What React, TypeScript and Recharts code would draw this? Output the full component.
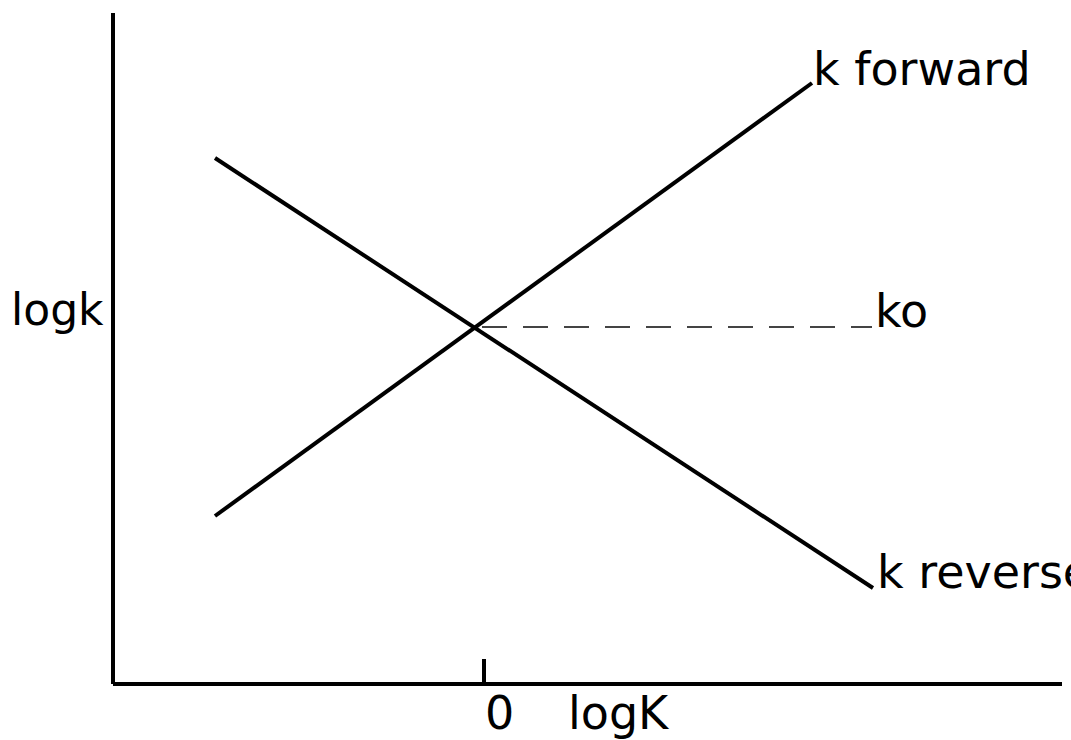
import React from 'react';
import { LineChart, Line, XAxis, YAxis, ReferenceLine } from 'recharts';

const FONT = '"DejaVu Sans", sans-serif';

const forwardData = [
  { x: -2.69, y: 1.68 },
  { x: 3.28, y: 6.01 },
];
const reverseData = [
  { x: -2.69, y: 5.26 },
  { x: 3.89, y: 0.96 },
];
const koData = [
  { x: -0.09, y: 3.57 },
  { x: 3.88, y: 3.57 },
];
const xDomain = [-3.71, 5.78];
const yDomain = [0, 6.71];
const xTicks = [0];
const labels = { forward: 'k forward', reverse: 'k reverse', ko: 'ko', xAxis: 'logK', yAxis: 'logk' };

const endLabel = (text: string, count: number, dx: number, dy: number) => (props: any) => {
  const { x, y, index } = props;
  if (index !== count - 1) return null;
  return (
    <text x={x + dx} y={y + dy} fontFamily={FONT} fontSize={46} fill="#000">
      {text}
    </text>
  );
};

const XTick = (props: any) => {
  const { x, y, payload } = props;
  return (
    <text x={x + 1} y={y + 45} fontFamily={FONT} fontSize={46} fill="#000" textAnchor="start">
      {payload.value}
    </text>
  );
};

export default function App() {
  return (
    <div style={{ position: 'absolute', left: 0, top: 0, background: '#fff' }}>
      <LineChart width={1071} height={740} margin={{ top: 13, right: 9, bottom: 0, left: 0 }}>
        <XAxis
          type="number"
          dataKey="x"
          domain={xDomain}
          allowDataOverflow
          ticks={xTicks}
          tickLine={false}
          tickSize={0}
          tickMargin={0}
          tick={<XTick />}
          height={56}
          axisLine={{ stroke: '#000', strokeWidth: 4 }}
          label={(p: any) => {
            const vb = p.viewBox;
            return (
              <text x={568} y={vb.y + 45} fontFamily={FONT} fontSize={46} fill="#000">
                {labels.xAxis}
              </text>
            );
          }}
        />
        <YAxis
          type="number"
          dataKey="y"
          domain={yDomain}
          allowDataOverflow
          tick={false}
          tickLine={false}
          width={113}
          axisLine={{ stroke: '#000', strokeWidth: 4 }}
          label={(p: any) => {
            const vb = p.viewBox;
            return (
              <text x={vb.x + 11} y={325} fontFamily={FONT} fontSize={44} fill="#000">
                {labels.yAxis}
              </text>
            );
          }}
        />
        <ReferenceLine
          segment={[
            { x: 0, y: 0 },
            { x: 0, y: 0.25 },
          ]}
          stroke="#000"
          strokeWidth={4}
        />
        <Line
          data={koData}
          dataKey="y"
          stroke="#444"
          strokeWidth={2}
          strokeDasharray="25 16"
          strokeDashoffset={34}
          dot={false}
          isAnimationActive={false}
          label={endLabel(labels.ko, koData.length, 3, 0)}
        />
        <Line
          data={forwardData}
          dataKey="y"
          stroke="#000"
          strokeWidth={4}
          dot={false}
          isAnimationActive={false}
          label={endLabel(labels.forward, forwardData.length, 1, 2)}
        />
        <Line
          data={reverseData}
          dataKey="y"
          stroke="#000"
          strokeWidth={4}
          dot={false}
          isAnimationActive={false}
          label={endLabel(labels.reverse, reverseData.length, 4, 0)}
        />
      </LineChart>
    </div>
  );
}
